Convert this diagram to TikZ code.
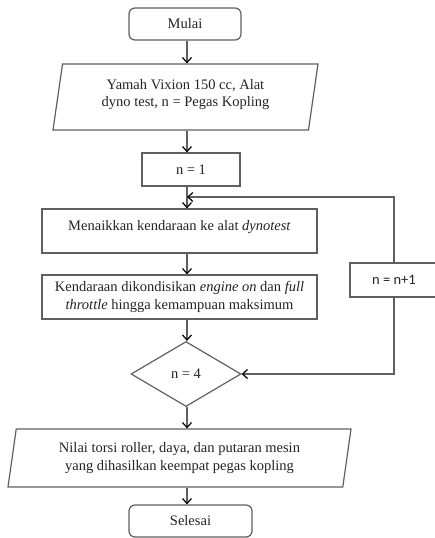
\documentclass[tikz,border=0pt]{standalone}
\usepackage{fontspec}
\setmainfont{Liberation Serif}
\newfontfamily\calibrifont{Carlito}
\usetikzlibrary{arrows.meta,shapes.geometric}
\definecolor{flowgray}{RGB}{95,95,95}
\definecolor{flowtext}{RGB}{35,35,35}

\begin{document}
\begin{tikzpicture}[x=1pt, y=-1pt,
  base/.style={draw=flowgray, line width=1.2pt, align=center, text=flowtext,
               font=\fontsize{14.5}{17.5}\selectfont, inner sep=0pt},
  term/.style={base, rectangle, rounded corners=6pt},
  procbox/.style={base, rectangle},
  iobox/.style={base, trapezium, trapezium stretches body,
                trapezium left angle=75, trapezium right angle=105},
  decide/.style={base, diamond, aspect=1.7},
  arr/.style={-{Straight Barb[length=5pt, width=9pt, color=black]},
              line width=1.2pt, flowgray}
]
  \useasboundingbox (0,0) rectangle (435,538);

  % main column
  \node[term, minimum width=112, minimum height=32] (mulai) at (185,24) {Mulai};
  \node[iobox, minimum width=265, minimum height=66, text depth=8pt] (input) at (185.5,97)
    {Yamah Vixion 150 cc, Alat\\dyno test, n = Pegas Kopling};
  \node[procbox, minimum width=98, minimum height=33] (nsatu) at (191,169.5) {n = 1};
  \node[procbox, minimum width=275, minimum height=44, text depth=12pt] (naik) at (179.5,231)
    {Menaikkan kendaraan ke alat \textit{dynotest}};
  \node[procbox, minimum width=275, minimum height=44] (kondisi) at (179.5,297)
    {Kendaraan dikondisikan \textit{engine on} dan \textit{full}\\
     \textit{throttle} hingga kemampuan maksimum};
  \node[decide, minimum width=110, minimum height=65] (cek) at (186,374) {n = 4};
  \node[iobox, minimum width=343, minimum height=58] (hasil) at (179.5,458)
    {Nilai torsi roller, daya, dan putaran mesin\\yang dihasilkan keempat pegas kopling};
  \node[term, minimum width=123, minimum height=32] (selesai) at (190.5,521) {Selesai};

  % loop
  \node[procbox, minimum width=88, minimum height=34, font=\calibrifont\fontsize{14.5}{17.5}\selectfont]
    (tambah) at (394,280) {n = n+1};

  \coordinate (axis) at (187,0);
  \coordinate (merge) at (187,197);

  \draw[arr] (axis |- mulai.south) -- (axis |- input.north);
  \draw[arr] (axis |- input.south) -- (axis |- nsatu.north);
  \draw[arr] (axis |- nsatu.south) -- (axis |- naik.north);
  \draw[arr] (axis |- naik.south) -- (axis |- kondisi.north);
  \draw[arr] (axis |- kondisi.south) -- (axis |- cek.north);
  \draw[arr] (axis |- cek.south) -- (axis |- hasil.north);
  \draw[arr] (axis |- hasil.south) -- (axis |- selesai.north);

  \draw[arr] (tambah.north) |- (merge);
  \draw[arr] (tambah.south) |- (cek.east);
\end{tikzpicture}
\end{document}
